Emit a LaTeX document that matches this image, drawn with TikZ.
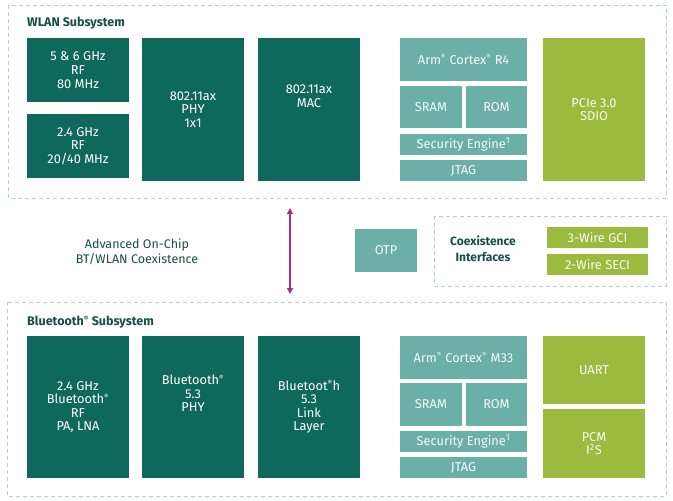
\documentclass[tikz,border=0pt]{standalone}
\usepackage{fontspec}
\setmainfont{Fira Sans}
\usetikzlibrary{arrows.meta}
\definecolor{dteal}{RGB}{14,104,92}
\definecolor{lteal}{RGB}{106,176,168}
\definecolor{lgreen}{RGB}{155,187,62}
\definecolor{dashc}{RGB}{178,210,204}
\definecolor{titlec}{RGB}{22,78,72}
\definecolor{arrowc}{RGB}{166,48,120}
\newcommand\pbox[7]{\node[#1, minimum width={(#5-#3)*1pt}, minimum height={(#6-#4)*1pt}] (#2) at ({(#3+#5)/2},{-(#4+#6)/2}) {#7};}
\newcommand\regm{\textsuperscript{\scriptsize ®}}
\begin{document}
\begin{tikzpicture}[x=1pt,y=1pt,
  base/.style={inner sep=0pt, outer sep=0pt, align=center, font=\fontsize{12.8}{13.6}\selectfont, text=white},
  dark/.style={base, fill=dteal},
  light/.style={base, fill=lteal, text=white!94!lteal},
  green/.style={base, fill=lgreen, text=white!94!lgreen},
  frame/.style={draw=dashc, line width=0.9pt, dash pattern=on 4pt off 3pt},
  title/.style={font=\bfseries\fontsize{12.5}{14}\selectfont, text=titlec, anchor=west, inner sep=0pt},
  plain/.style={font=\fontsize{12.5}{15}\selectfont, text=titlec, align=center, inner sep=0pt}
]
\useasboundingbox (0,0) rectangle (673,-501);
% frames
\draw[frame] (8,-5) rectangle (666,-198);
\draw[frame] (7,-302) rectangle (666,-496);
\draw[frame] (434,-216) rectangle (666,-286);
% WLAN
\node[title] (wt) at (27,-23) {WLAN Subsystem};
\pbox{dark}{rf56}{27}{38}{129}{102}{5 \& 6 GHz\\RF\\80 MHz}
\pbox{dark}{rf24}{27}{114}{129}{178}{2.4 GHz\\RF\\20/40 MHz}
\pbox{dark}{wphy}{142}{38}{244}{181}{802.11ax\\PHY\\1x1}
\pbox{dark}{wmac}{258}{38}{360}{181}{802.11ax\\MAC\\[13.6pt]}
\pbox{light}{r4}{400}{38}{527}{81}{Arm\regm{} Cortex\regm{} R4}
\pbox{light}{wsram}{400}{86}{462}{128}{SRAM}
\pbox{light}{wrom}{466}{86}{527}{128}{ROM}
\pbox{light}{wsec}{400}{134}{527}{155}{Security Engine\textsuperscript{1}}
\pbox{light}{wjtag}{400}{160}{527}{181}{JTAG}
\pbox{green}{pcie}{543}{38}{645}{181}{PCIe 3.0\\SDIO}
% middle
\node[plain] (adv) at (137,-252) {Advanced On-Chip\\BT/WLAN Coexistence};
\coordinate (atop) at (290,-208);
\coordinate (abot) at (290,-294);
\draw[arrowc, line width=1.3pt, {Triangle[length=6pt,width=6pt]}-{Triangle[length=6pt,width=6pt]}] (atop) -- (abot);
\pbox{light}{otp}{355}{229}{417}{272}{OTP}
\node[plain, font=\bfseries\fontsize{12}{16}\selectfont] (coex) at (483,-249) {Coexistence\\Interfaces};
\pbox{green}{gci}{547}{227}{648}{248}{3-Wire GCI}
\pbox{green}{seci}{547}{254}{648}{275}{2-Wire SECI}
% Bluetooth
\node[title] (bt) at (27,-322) {Bluetooth\textsuperscript{\scriptsize ®} Subsystem};
\pbox{dark}{btrf}{27}{336}{129}{478}{2.4 GHz\\Bluetooth\regm\\RF\\PA, LNA}
\pbox{dark}{btphy}{142}{336}{244}{478}{Bluetooth\regm\\5.3\\PHY\\[13.6pt]}
\pbox{dark}{btll}{258}{336}{360}{478}{Bluetoot\regm{}h\\5.3\\Link\\Layer}
\pbox{light}{m33}{400}{336}{527}{379}{Arm\regm{} Cortex\regm{} M33}
\pbox{light}{bsram}{400}{383}{462}{426}{SRAM}
\pbox{light}{brom}{466}{383}{527}{426}{ROM}
\pbox{light}{bsec}{400}{431}{527}{452}{Security Engine\textsuperscript{1}}
\pbox{light}{bjtag}{400}{457}{527}{478}{JTAG}
\pbox{green}{uart}{543}{336}{645}{404}{UART}
\pbox{green}{pcm}{543}{409}{645}{478}{PCM\\I\textsuperscript{2}S}
\end{tikzpicture}
\end{document}
